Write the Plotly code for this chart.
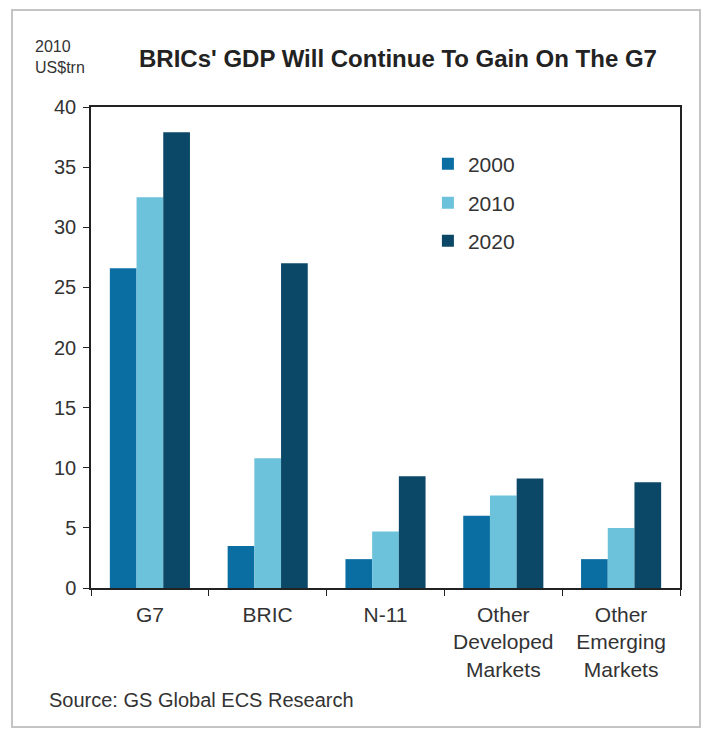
import plotly.graph_objects as go

categories = ["G7", "BRIC", "N-11", "Other<br>Developed<br>Markets", "Other<br>Emerging<br>Markets"]
years = ["2000", "2010", "2020"]
gdp_2000 = [26.6, 3.5, 2.4, 6.0, 2.4]
gdp_2010 = [32.5, 10.8, 4.7, 7.7, 5.0]
gdp_2020 = [37.9, 27.0, 9.3, 9.1, 8.8]
y_ticks = [0, 5, 10, 15, 20, 25, 30, 35, 40]

colors = ["#0a6ea3", "#6cc1db", "#0b4766"]
series = [gdp_2000, gdp_2010, gdp_2020]

FONT = "Liberation Sans Narrow, Arial Narrow, Liberation Sans, Arial, sans-serif"

fig = go.Figure()
legend_names = ["legend", "legend2", "legend3"]
for yr, vals, col, lg in zip(years, series, colors, legend_names):
    fig.add_trace(go.Bar(x=categories, y=vals, name=yr, marker=dict(color=col, line=dict(width=0)),
                         legend=lg, showlegend=True))

leg_common = dict(font=dict(family=FONT, size=21, color="#333333"), bgcolor="rgba(0,0,0,0)",
                  xanchor="left", yanchor="middle", itemwidth=30, visible=True)
fig.update_layout(
    width=703, height=723,
    margin=dict(l=83, r=31, t=99, b=143),
    paper_bgcolor="white", plot_bgcolor="white",
    showlegend=True,
    barmode="group", bargap=0.32, bargroupgap=0,
    font=dict(family=FONT, color="#333333"),
    legend=dict(x=0.572, y=(588 - 164) / 481, **leg_common),
    legend2=dict(x=0.572, y=(588 - 203) / 481, **leg_common),
    legend3=dict(x=0.572, y=(588 - 241) / 481, **leg_common),
    xaxis=dict(showline=True, linecolor="#222222", linewidth=1.5, mirror=True,
               ticks="outside", tickson="boundaries", ticklen=6, tickcolor="#222222",
               ticklabelstandoff=7,
               tickfont=dict(family=FONT, size=21, color="#333333"), showgrid=False),
    yaxis=dict(range=[0, 40], tickvals=y_ticks, showline=True, linecolor="#222222", linewidth=1.5,
               mirror=True, ticks="outside", ticklen=6, tickcolor="#222222", showgrid=False,
               ticklabelstandoff=3,
               zeroline=False, tickfont=dict(family=FONT, size=20, color="#333333")),
    shapes=[dict(type="rect", xref="paper", yref="paper",
                 x0=(12 - 91) / 589, x1=(700 - 91) / 589,
                 y0=(588 - 727) / 481, y1=(588 - 10) / 481,
                 line=dict(color="#c4c4c4", width=2), fillcolor="rgba(0,0,0,0)", layer="below")],
    annotations=[
        dict(text="<b>BRICs' GDP Will Continue To Gain On The G7</b>", xref="paper", yref="paper",
             x=(137 - 91) / 589, y=(588 - 58) / 481, xanchor="left", yanchor="middle",
             showarrow=False, font=dict(family=FONT, size=24, color="#222222")),
        dict(text="2010<br>US$trn", xref="paper", yref="paper", align="left",
             x=(33 - 91) / 589, y=(588 - 57) / 481, xanchor="left", yanchor="middle",
             showarrow=False, font=dict(family=FONT, size=16, color="#333333")),
        dict(text="Source: GS Global ECS Research", xref="paper", yref="paper",
             x=(47 - 91) / 589, y=(588 - 700) / 481, xanchor="left", yanchor="middle",
             showarrow=False, font=dict(family=FONT, size=20, color="#333333")),
    ],
)

fig.write_html("out.html")
